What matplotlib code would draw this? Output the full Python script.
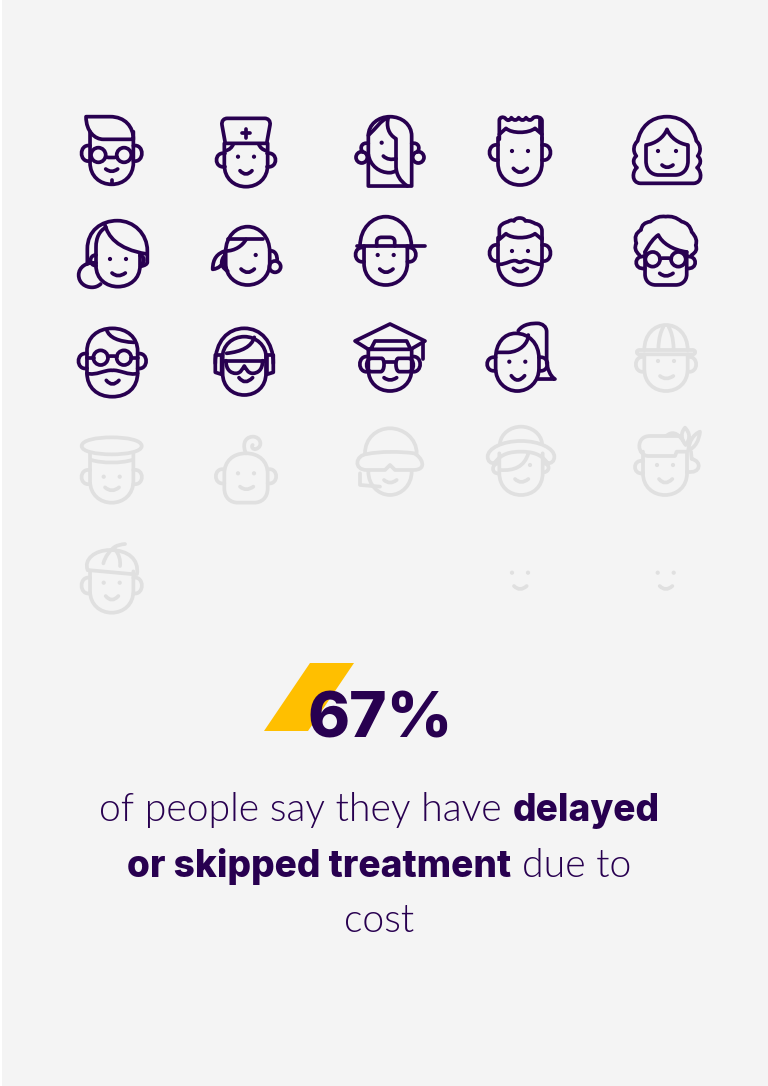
import re

import matplotlib
matplotlib.use("Agg")
import matplotlib.pyplot as plt
from matplotlib.patches import PathPatch, Polygon, Rectangle
from matplotlib.path import Path

# Survey figures shown in the pictogram
people = [
    "quiff", "nurse", "long_hair", "spiky", "wavy",
    "bun", "bandana", "cap", "beard", "curly_glasses",
    "bald_beard", "headphones", "graduate", "ponytail", "hard_hat",
    "officer", "baby", "goggles", "sun_hat", "feather",
    "acorn", "smile", "smile",
]
affected_count = 14
share_label = "67%"
caption_lines = [
    [("of people say they have", False), ("delayed", True)],
    [("or skipped treatment", True), ("due to", False)],
    [("cost", False)],
]

DARK = "#280050"
GREY = "#e0e0e0"
YELLOW = "#ffbf00"
BACKGROUND = "#f4f4f4"
STROKE_PX = 3.7

# Where each icon sits on the page (between the eyes)
anchor_x = [111.7, 246, 390, 520, 667,
            118, 247.7, 385.7, 520, 665.7,
            112.3, 244.3, 390, 517.3, 666,
            111.7, 246, 390, 521, 665,
            111.7, 520, 665.7]
anchor_y = [155, 156.7, 142.7, 151, 151,
            259, 255, 255, 251, 259.3,
            357.7, 365, 365, 361.7, 361,
            476.7, 473.3, 473.3, 465, 465,
            582.7, 572.7, 572.7]


# Icon outlines use an svg-like path syntax, 3 units to a pixel, y pointing down
def head(top, bottom, hw=65, side=None):
    side = bottom - 65 if side is None else side
    return (f"M {-hw} {top} L {-hw} {side} C {-hw} {side + 40} {-hw * 0.55} {bottom} 0 {bottom} "
            f"C {hw * 0.55} {bottom} {hw} {side + 40} {hw} {side} L {hw} {top}")


def ears(y0, y1, hw=65, out=34):
    return [f"M {-hw} {y0} C {-hw - out} {y0 - 6} {-hw - out} {y1 + 6} {-hw} {y1}",
            f"M {hw} {y0} C {hw + out} {y0 - 6} {hw + out} {y1 + 6} {hw} {y1}"]


def ring(x, y, r):
    k = r * 0.55
    return (f"M {x - r} {y} C {x - r} {y - k} {x - k} {y - r} {x} {y - r} "
            f"C {x + k} {y - r} {x + r} {y - k} {x + r} {y} "
            f"C {x + r} {y + k} {x + k} {y + r} {x} {y + r} "
            f"C {x - k} {y + r} {x - r} {y + k} {x - r} {y} Z")


EYES = [(-24, 0), (24, 0)]

ICON_LINES = {
    "quiff": [
        head(-70, 88), *ears(-28, 18),
        "M -77 -115 L -5 -115 C 40 -115 65 -85 65 -47 L -25 -47 C -50 -47 -77 -70 -77 -115 Z",
        ring(-40, 0, 22), ring(37, 0, 22), "M -18 6 Q 0 10 16 6",
        "M -18 42 Q 0 56 18 42", "M 0 75 L 0 85",
    ],
    "nurse": [
        head(-40, 90), *ears(-10, 30, 63),
        "M -62 -40 L -72 -95 C -74 -108 -66 -115 -56 -115 L 56 -115 C 66 -115 74 -108 72 -95 L 62 -40 Z",
        "M -13 -70 L 13 -70", "M 0 -83 L 0 -57",
        "M -62 -18 C -50 -20 -42 -28 -38 -38", "M 62 -18 C 50 -20 42 -28 38 -38",
        "M -18 42 Q 0 62 18 42",
    ],
    "long_hair": [
        "M -65 130 L -65 -20 C -65 -55 -35 -78 0 -78 C 35 -78 65 -55 65 -20 L 65 130 Z",
        "M -5 -76 C -12 -50 -5 -25 18 -12 L 18 70 C 18 95 30 115 52 130",
        "M -5 -76 C -30 -65 -40 -45 -65 -22",
        "M -65 35 C -60 70 -30 90 -2 90 C 5 90 12 88 18 84",
        "M -20 40 C -10 50 5 52 18 48",
        "M -65 2 C -85 -2 -92 15 -82 28", ring(-85, 44, 17),
        "M 65 2 C 85 -2 92 15 82 28", ring(85, 44, 17),
    ],
    "spiky": [
        "M -62 -35 L -62 -92 C -62 -102 -50 -104 -44 -98 Q -34 -85 -26 -100 Q -14 -85 -4 -100 "
        "Q 8 -85 18 -100 Q 30 -85 40 -100 C 48 -105 66 -102 66 -90 L 66 -35",
        "M 60 -100 L 60 -62",
        head(-40, 102, 66), *ears(-18, 27, 66),
        "M -62 -50 L -42 -68 C -25 -52 25 -52 45 -68 L 66 -50",
        "M -20 52 Q 0 76 22 52",
    ],
    "wavy": [
        "M 0 -103 C -50 -103 -80 -70 -88 -30 C -100 -20 -104 0 -92 15 C -104 25 -102 40 -90 50 "
        "C -104 60 -108 95 -80 97 L 80 97 C 108 95 104 60 90 50 C 102 40 104 25 92 15 "
        "C 104 0 100 -20 88 -30 C 80 -70 50 -103 0 -103 Z",
        "M 0 -65 C -10 -40 -35 -22 -63 -18 L -63 30 C -63 58 -45 72 -25 72 L 25 72 "
        "C 45 72 63 58 63 30 L 63 -18 C 35 -22 10 -40 0 -65 Z",
        "M -15 42 Q 0 56 18 42",
    ],
    "bun": [
        "M -92 15 L -92 -30 C -92 -85 -50 -115 -2 -115 C 48 -115 88 -75 88 -25 L 88 10 C 88 15 80 20 68 22",
        "M -39 -102 C -30 -70 -5 -30 86 -15",
        "M -36 -95 C -55 -85 -66 -65 -66 -35 L -66 20 C -66 60 -35 83 0 83 C 35 83 66 60 66 20 L 66 -15",
        "M -66 -12 C -88 -12 -88 20 -66 20", "M 66 -10 C 80 -10 82 12 68 16",
        "M -66 12 C -95 8 -118 25 -118 48 C -118 72 -98 85 -78 85 C -68 85 -60 82 -52 75",
        "M -18 42 Q 0 58 22 42",
    ],
    "bandana": [
        "M -66 25 L -66 -10 C -66 -55 -35 -85 0 -85 C 35 -85 66 -55 66 -10 L 66 25 "
        "C 66 65 35 90 0 90 C -35 90 -66 65 -66 25 Z",
        "M -58 -47 L 47 -47", "M -5 -47 C -15 -28 -38 -12 -66 -12",
        "M -68 -12 C -90 -5 -105 10 -105 43 C -85 40 -70 30 -68 -10",
        "M -72 5 C -85 25 -75 40 -60 48",
        "M 66 -12 C 80 -15 90 -2 88 18", ring(82, 35, 17),
        "M -20 42 Q 0 62 20 42",
    ],
    "cap": [
        "M -77 -27 C -77 -80 -40 -115 0 -115 C 40 -115 77 -80 77 -27",
        "M -85 -27 L 118 -27",
        "M -27 -27 L -27 -40 C -27 -50 -20 -53 -12 -53 L 12 -53 C 20 -53 27 -50 27 -40 L 27 -27",
        head(-27, 90), *ears(-22, 20),
        "M -18 42 Q 0 62 22 42",
    ],
    "beard": [
        "M -62 -40 L -62 -65 C -62 -78 -48 -85 -36 -88 C -30 -92 -25 -94 -18 -90 C -14 -102 12 -102 16 -90 "
        "C 30 -92 40 -85 46 -82 C 58 -80 66 -72 66 -60 L 66 -38",
        "M -62 -35 L -42 -52 C -25 -36 25 -36 45 -52 L 66 -35",
        head(-40, 102, 66), *ears(-18, 30, 66),
        "M -62 40 C -40 40 -25 25 -10 30 Q 0 38 10 30 C 25 25 40 40 64 40",
        "M -20 52 Q 0 72 22 52",
    ],
    "curly_glasses": [
        "M -79 -13 Q -98 -30 -88 -48 Q -98 -75 -74 -88 Q -72 -110 -46 -113 Q -25 -132 0 -128 "
        "Q 25 -132 48 -113 Q 72 -108 78 -82 Q 98 -60 90 -42 Q 98 -25 78 -13",
        "M -62 -22 C -50 -45 -35 -65 -22 -73 C -12 -50 20 -28 63 -22",
        "M -62 -22 L -62 45 C -62 65 -48 77 -30 77 L 30 77 C 48 77 63 65 63 45 L 63 -22",
        *ears(-8, 27, 63),
        ring(-39, 0, 22), ring(38, 0, 22), "M -18 -2 Q 0 -6 17 -2",
        "M -18 42 Q 0 58 22 42",
    ],
    "bald_beard": [
        "M -76 45 L -76 -20 C -76 -60 -45 -88 0 -88 C 45 -88 76 -60 76 -20 L 76 45 "
        "C 76 90 45 117 0 117 C -45 117 -76 90 -76 45 Z",
        "M -17 -84 C -10 -60 20 -48 65 -46", *ears(-12, 32, 76),
        ring(-35, 0, 22), ring(35, 0, 22), "M -14 -3 Q 0 -8 14 -3",
        "M -76 0 L -56 0", "M 56 0 L 76 0",
        "M -76 47 C -50 55 -20 35 0 38 C 20 35 50 55 76 47",
        "M -18 68 Q 0 90 20 68",
    ],
    "headphones": [
        "M -87 -5 C -87 -70 -50 -110 0 -110 C 50 -110 87 -70 87 -5",
        "M -66 -20 C -66 -60 -35 -85 0 -85 C 35 -85 66 -60 66 -20",
        "M -87 -30 L -87 22 L -68 28 L -68 -30 Z", "M 87 -30 L 87 22 L 68 28 L 68 -30 Z",
        head(-30, 90), "M -53 -35 C -8 -40 22 -55 30 -83",
        "M -65 -13 L 65 -13",
        "M -55 -13 C -55 15 -40 25 -25 25 C -10 25 -5 10 0 3 C 5 10 10 25 25 25 C 40 25 55 15 55 -13",
        "M -16 38 Q 2 62 25 38",
    ],
    "graduate": [
        "M -65 -47 L -105 -72 L 0 -123 L 105 -72 L 62 -47",
        "M -58 -47 L -45 -72 L 50 -72 L 62 -47 L -65 -47",
        "M 100 -72 L 100 -17",
        head(-47, 78), *ears(-25, 20),
        "M -55 -20 L -25 -20 C -15 -20 -15 20 -28 20 L -55 20 C -75 20 -75 -20 -55 -20 Z",
        "M 55 -20 L 25 -20 C 15 -20 15 20 28 20 L 55 20 C 75 20 75 -20 55 -20 Z",
        "M -15 -8 L 15 -8",
        "M -18 38 Q 0 52 20 38",
    ],
    "ponytail": [
        "M -65 20 L -65 -10 C -65 -55 -40 -85 -5 -85 C 35 -85 65 -55 65 -10 L 65 20 "
        "C 65 60 35 88 0 88 C -35 88 -65 60 -65 20 Z",
        "M -62 -28 L -27 -28 C 8 -30 33 -55 33 -80",
        *ears(-13, 27), "M 3 -93 C 18 -115 48 -115 60 -115 C 75 -115 88 -105 88 -90 L 88 -5 "
        "C 88 20 100 45 113 52 L 63 52",
        "M -18 42 Q 0 68 22 42",
    ],
    "hard_hat": [
        "M -65 -33 C -65 -80 -35 -108 0 -108 C 35 -108 65 -80 65 -33",
        "M -80 -33 L 80 -33 C 90 -33 90 -20 80 -20 L -80 -20 C -90 -20 -90 -33 -80 -33 Z",
        "M -23 -35 C -22 -70 -15 -90 -8 -102", "M 23 -35 C 22 -70 15 -90 8 -102",
        head(-20, 90), *ears(-12, 32),
        "M -18 45 Q 0 60 22 45",
    ],
    "officer": [
        "M -90 -92 C -90 -110 -45 -118 0 -118 C 45 -118 90 -110 90 -92 C 90 -75 45 -67 0 -67 "
        "C -45 -67 -90 -75 -90 -92 Z",
        "M -60 -50 C -30 -40 30 -40 60 -50",
        head(-70, 78), *ears(-20, 22),
        "M -20 32 Q 0 50 22 32",
    ],
    "baby": [
        "M 0 -60 C -40 -60 -65 -35 -65 0 L -65 45 C -65 75 -45 88 -25 88 L 25 88 "
        "C 45 88 65 75 65 45 L 65 0 C 65 -35 40 -60 0 -60 Z",
        "M 0 -60 C -10 -80 -8 -108 20 -110 C 45 -110 52 -80 30 -73 C 20 -70 15 -80 20 -85",
        *ears(-12, 30),
        "M -18 40 Q 0 56 22 40",
    ],
    "goggles": [
        "M -75 -60 C -75 -105 -40 -135 0 -135 C 40 -135 80 -105 80 -60",
        "M -68 -58 C -30 -66 30 -66 72 -60 C 95 -50 115 -10 70 -10 L 15 -10 L 0 -25 L -15 -10 L -70 -10 "
        "C -110 -10 -105 -55 -68 -58 Z",
        "M -90 0 L -90 35 L -30 40",
        "M -65 -5 C -65 35 -35 65 0 65 C 35 65 65 35 65 -5",
        "M -18 20 Q 0 36 20 20",
    ],
    "sun_hat": [
        "M -63 -65 C -60 -95 -30 -115 0 -115 C 30 -115 60 -95 63 -65",
        "M 0 -72 C -55 -72 -100 -50 -100 -25 C -100 -10 -90 -5 -80 -5 C -60 -35 -30 -40 0 -40 "
        "C 30 -40 60 -35 80 -5 C 90 -5 100 -10 100 -25 C 100 -50 55 -72 0 -72 Z",
        head(-35, 90),
        "M -63 15 C -20 18 10 5 22 -35",
        "M -66 -5 C -90 -5 -90 28 -66 25", "M 66 -5 C 88 -5 88 20 68 22",
        "M -18 42 Q 0 60 22 42",
    ],
    "feather": [
        "M 50 -87 L -45 -87 C -65 -87 -77 -75 -77 -57 C -77 -40 -65 -27 -50 -27 L 30 -27 L 35 -40 L 66 -40",
        head(-40, 90, 66), "M -66 -12 C -98 -18 -98 30 -66 25",
        "M 78 -40 L 80 -18 C 112 -12 108 28 66 20",
        "M 60 -112 C 76 -95 76 -78 62 -60 C 48 -78 46 -95 60 -112 Z",
        "M 105 -100 C 102 -75 92 -52 70 -45 C 72 -70 85 -92 105 -100 Z",
        "M 5 -88 C 20 -100 35 -100 55 -72",
        "M -18 42 Q 0 64 22 42",
    ],
    "acorn": [
        "M -72 -38 L 70 -25",
        "M -72 -38 C -85 -70 -50 -98 -5 -98 C 50 -98 82 -70 76 -26",
        "M -25 -58 C -20 -78 -5 -98 10 -108 Q 22 -115 40 -116",
        "M 25 -50 C 27 -68 22 -85 10 -100",
        head(-34, 90), *ears(-15, 32),
        "M -18 40 Q 0 62 20 40",
    ],
    "smile": [
        "M -18 40 Q 0 58 20 40",
    ],
}

# Icons where an eye is hidden or shaped differently
ICON_EYES = {
    "quiff": [], "curly_glasses": [], "bald_beard": [], "headphones": [], "graduate": [], "goggles": [],
    "long_hair": [(-25, 0)], "bandana": [(24, 0)], "sun_hat": [(27, 0)],
    "wavy": [(-27, 0), (27, 0)],
}


def parse_path(d, x0, y0):
    verts, codes = [], []
    tokens = re.findall(r"[MLCQZ]|-?\d+\.?\d*", d)
    i = 0
    counts = {"M": (1, [Path.MOVETO]), "L": (1, [Path.LINETO]),
              "Q": (2, [Path.CURVE3] * 2), "C": (3, [Path.CURVE4] * 3)}
    while i < len(tokens):
        cmd = tokens[i]
        i += 1
        if cmd == "Z":
            verts.append(verts[0])
            codes.append(Path.CLOSEPOLY)
            continue
        n, kinds = counts[cmd]
        for _ in range(n):
            verts.append((x0 + float(tokens[i]) / 3, y0 + float(tokens[i + 1]) / 3))
            i += 2
        codes.extend(kinds)
    return Path(verts, codes)


def draw_icon(ax, name, x, y, color):
    lw = STROKE_PX * 0.72
    for d in ICON_LINES[name]:
        ax.add_patch(PathPatch(parse_path(d, x, y), fill=False, edgecolor=color, lw=lw,
                               capstyle="round", joinstyle="round"))
    for ex, ey in ICON_EYES.get(name, EYES):
        ax.add_patch(plt.Circle((x + ex / 3, y + ey / 3), 2.1, color=color, lw=0))


def text_width(ax, s, **kw):
    t = ax.text(0, 0, s, **kw)
    w = t.get_window_extent(ax.figure.canvas.get_renderer()).width
    t.remove()
    return w


def draw_caption_line(ax, runs, centre, baseline):
    # Mixed weights on one line, so each run is measured and placed by hand
    styles = [dict(fontsize=28.2, family="Lato", color=DARK, weight=300) if not bold else
              dict(fontsize=26.7, family="Inter", color=DARK, weight=800) for _, bold in runs]
    widths = [text_width(ax, s, **st) for (s, _), st in zip(runs, styles)]
    gap = 11
    x = centre - (sum(widths) + gap * (len(runs) - 1)) / 2
    for (s, _), st, w in zip(runs, styles, widths):
        ax.text(x, baseline, s, va="baseline", ha="left", **st)
        x += w + gap


fig = plt.figure(figsize=(7.68, 10.86), dpi=100, facecolor="white")
ax = fig.add_axes([0, 0, 1, 1])
ax.set_xlim(0, 768)
ax.set_ylim(1086, 0)
ax.axis("off")
ax.add_patch(Rectangle((2, 0), 766, 1086, color=BACKGROUND, lw=0))

for i, (name, x, y) in enumerate(zip(people, anchor_x, anchor_y)):
    draw_icon(ax, name, x, y, DARK if i < affected_count else GREY)

# Headline figure with the slanted yellow block behind it
ax.add_patch(Polygon([(310, 663), (354, 663), (308, 731), (264, 731)], color=YELLOW, lw=0))
ax.text(380.5, 738, share_label, ha="center", va="baseline", fontsize=46, family="Inter",
        weight=800, color=DARK)

for runs, baseline in zip(caption_lines, [821, 877, 932]):
    draw_caption_line(ax, runs, 379, baseline)

fig.savefig("out.png", dpi=100, facecolor=fig.get_facecolor())
